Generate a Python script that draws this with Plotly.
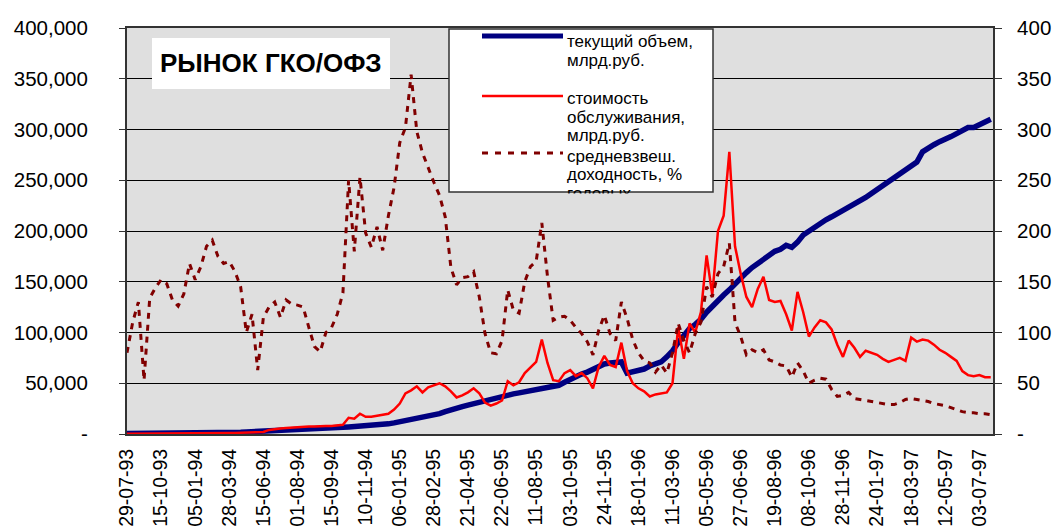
import plotly.graph_objects as go

# ---- data ----
tick_labels = ["29-07-93", "15-10-93", "05-01-94", "28-03-94", "15-06-94", "01-08-94",
               "15-09-94", "10-11-94", "06-01-95", "28-02-95", "21-04-95", "22-06-95",
               "11-08-95", "03-10-95", "24-11-95", "18-01-96", "11-03-96", "05-05-96",
               "27-06-96", "19-08-96", "08-10-96", "28-11-96", "24-01-97", "18-03-97",
               "12-05-97", "03-07-97"]

# current volume, left axis
volume = [
    500, 500, 600, 600, 700, 700, 800, 800, 900, 900,
    1000, 1000, 1100, 1200, 1200, 1300, 1400, 1500, 1600, 1700,
    1800, 2000, 2200, 2400, 2600, 3000, 3300, 3600, 3800, 4000,
    4200, 4500, 4800, 5000, 5300, 5600, 6000, 6300, 6600, 7000,
    7300, 7700, 8000, 8500, 9000, 9500, 10000, 11000, 12000, 13000,
    14000, 15000, 16000, 17000, 18500, 20000, 22000, 24000, 25500, 27000,
    28500, 30000, 31500, 33000, 34500, 35500, 36500, 38000, 39500, 40500,
    41500, 43000, 44000, 45000, 45500, 46000, 48000, 51000, 54000, 57000,
    59000, 61000, 64000, 67000, 69000, 70000, 70500, 71000, 60000, 61000,
    62000, 64000, 67000, 69000, 71000, 76000, 82000, 90000, 98000, 104000,
    108000, 113000, 120000, 126000, 132000, 137000, 142000, 148000, 154000, 159000,
    164000, 168000, 172000, 176000, 180000, 182000, 186000, 184000, 189000, 196000,
    200000, 204000, 208000, 211000, 214000, 217000, 220000, 223000, 226000, 229000,
    233000, 237000, 241000, 245000, 249000, 253000, 256000, 260000, 264000, 268000,
    278000, 282000, 285000, 288000, 290000, 293000, 296000, 299000, 302000, 302000,
    305000, 307000, 310000]

# service cost, left axis
cost = [
    300, 300, 300, 400, 400, 400, 500, 500, 500, 600,
    600, 700, 700, 800, 800, 900, 900, 1000, 1000, 1100,
    1200, 1300, 1400, 1500, 2000, 4000, 5000, 5500, 6000, 6500,
    7000, 7000, 7500, 7500, 8000, 8000, 8000, 8500, 9000, 16000,
    15000, 20000, 17000, 17000, 18000, 19000, 20000, 24000, 30000, 40000,
    43000, 47000, 41000, 46000, 48000, 50000, 47000, 42000, 36000, 38000,
    41000, 45000, 40000, 31000, 28000, 30000, 33000, 52000, 48000, 51000,
    60000, 66000, 71000, 93000, 70000, 53000, 52000, 60000, 63000, 57000,
    60000, 55000, 45000, 66000, 77000, 68000, 66000, 90000, 62000, 50000,
    45000, 42000, 37000, 39000, 40000, 41000, 50000, 105000, 74000, 109000,
    100000, 120000, 176000, 137000, 200000, 215000, 278000, 185000, 158000, 135000,
    125000, 143000, 155000, 132000, 130000, 131000, 118000, 102000, 140000, 120000,
    96000, 105000, 112000, 110000, 103000, 88000, 76000, 92000, 85000, 76000,
    82000, 80000, 78000, 74000, 71000, 73000, 75000, 72000, 95000, 91000,
    93000, 92000, 88000, 83000, 80000, 76000, 72000, 62000, 58000, 57000,
    58000, 56000, 56000]

# weighted average yield, % per year, right axis
yield_pct = [
    80, 110, 130, 53, 134, 144, 152, 148, 132, 126,
    138, 168, 152, 165, 185, 191, 175, 168, 170, 160,
    145, 100, 118, 63, 115, 125, 130, 115, 132, 128,
    127, 125, 105, 86, 81, 100, 105, 118, 139, 250,
    180, 253, 198, 184, 204, 181, 215, 243, 287, 302,
    354, 298, 277, 262, 248, 235, 214, 164, 147, 154,
    155, 160, 135, 99, 80, 79, 92, 142, 122, 119,
    150, 165, 170, 208, 155, 112, 115, 116, 112, 105,
    99, 91, 78, 102, 117, 99, 92, 130, 114, 93,
    80, 72, 70, 61, 68, 60, 80, 109, 92, 80,
    99, 110, 145, 135, 158, 165, 188, 110, 96, 78,
    83, 80, 83, 73, 71, 68, 67, 56, 70, 62,
    50, 53, 55, 54, 44, 37, 38, 41, 35, 34,
    33, 32, 31, 30, 29, 29, 31, 34, 35, 34,
    33, 32, 30, 29, 28, 26, 24, 22, 21, 21,
    20, 20, 19]

left_ticks = [0, 50000, 100000, 150000, 200000, 250000, 300000, 350000, 400000]
left_tick_text = ["-", "50,000", "100,000", "150,000", "200,000", "250,000",
                  "300,000", "350,000", "400,000"]
right_ticks = [0, 50, 100, 150, 200, 250, 300, 350, 400]
right_tick_text = ["-", "50", "100", "150", "200", "250", "300", "350", "400"]

legend_lines = [["текущий объем,", "млрд.руб."],
                ["стоимость", "обслуживания,", "млрд.руб."],
                ["средневзвеш.", "доходность, %", "годовых"]]
title_text = "РЫНОК ГКО/ОФЗ"

x = list(range(len(volume)))
FONT = "Arial, Liberation Sans, sans-serif"
BG = "#DFDFDF"
FRAME = "#333333"

fig = go.Figure()
fig.add_trace(go.Scatter(x=x, y=volume, mode="lines", line=dict(color="#000080", width=5.5),
                         showlegend=False, hoverinfo="skip"))
fig.add_trace(go.Scatter(x=x, y=cost, mode="lines", line=dict(color="#FF0000", width=2.5),
                         showlegend=False, hoverinfo="skip"))
fig.add_trace(go.Scatter(x=x, y=yield_pct, mode="lines", yaxis="y2",
                         line=dict(color="#800000", width=3, dash="6px,6px"),
                         showlegend=False, hoverinfo="skip"))

PL, PR, PT, PB = 127, 993, 28, 434
W, H = PR - PL, PB - PT


def px(xp):
    return (xp - PL) / W


def py(yp):
    return (PB - yp) / H


shapes = []
annotations = []

# title box
shapes.append(dict(type="rect", xref="paper", yref="paper", x0=px(152), x1=px(390),
                   y0=py(89), y1=py(38), fillcolor="white", line=dict(width=0), layer="above"))
annotations.append(dict(xref="paper", yref="paper", x=px(158), y=py(63), xanchor="left",
                        yanchor="middle", text="<b>" + title_text + "</b>", showarrow=False,
                        font=dict(family=FONT, size=26, color="black")))

# legend box
shapes.append(dict(type="rect", xref="paper", yref="paper", x0=px(449), x1=px(713),
                   y0=py(192), y1=py(29), fillcolor="white",
                   line=dict(color=FRAME, width=1.5), layer="above"))
legend_styles = [dict(color="#000080", width=5), dict(color="#FF0000", width=2.5),
                 dict(color="#800000", width=3, dash="6px,7px")]
legend_line_y = [36, 96, 153]
legend_text_y = [[42, 61], [99, 117, 135], [156, 174, 193]]
for style, ly in zip(legend_styles, legend_line_y):
    shapes.append(dict(type="line", xref="paper", yref="paper", x0=px(482), x1=px(563),
                       y0=py(ly), y1=py(ly), line=style, layer="above"))
for lines, ys in zip(legend_lines, legend_text_y):
    for t, ty in zip(lines, ys):
        annotations.append(dict(xref="paper", yref="paper", x=px(565), y=py(ty),
                                xanchor="left", yanchor="middle", text=t, showarrow=False,
                                font=dict(family=FONT, size=17, color="black")))
# cover the part of the last legend line that falls outside the box
annotations.append(dict(xref="paper", yref="paper", x=px(560), y=py(193.2), xanchor="left",
                        yanchor="top", text=" ", showarrow=False, width=120, height=14,
                        bgcolor=BG, borderpad=0, font=dict(size=10)))

fig.update_layout(
    width=1052, height=532,
    margin=dict(l=PL, r=1052 - PR, t=PT, b=532 - PB, pad=0, autoexpand=False),
    paper_bgcolor="white", plot_bgcolor=BG,
    font=dict(family=FONT, size=20, color="black"),
    showlegend=False,
    shapes=shapes, annotations=annotations,
    xaxis=dict(range=[0, 152.4], tickvals=x[::6], ticktext=tick_labels, tickangle=-90,
               showgrid=False, zeroline=False, showline=True, mirror=True,
               linecolor=FRAME, linewidth=2, ticks="", ticklabelstandoff=5,
               automargin=False, tickfont=dict(family=FONT, size=19.5)),
    yaxis=dict(range=[0, 400000], tickvals=left_ticks, ticktext=left_tick_text,
               showgrid=True, gridcolor="black", gridwidth=1, zeroline=False,
               showline=True, linecolor=FRAME, linewidth=2, ticks="outside", ticklen=6,
               tickcolor=FRAME, ticklabelstandoff=27, automargin=False,
               tickfont=dict(family=FONT, size=20.5)),
    yaxis2=dict(range=[0, 400], tickvals=right_ticks, ticktext=right_tick_text,
                overlaying="y", side="right", showgrid=False, zeroline=False,
                showline=True, linecolor=FRAME, linewidth=2, ticks="outside", ticklen=7,
                tickcolor=FRAME, ticklabelstandoff=11, automargin=False,
                tickfont=dict(family=FONT, size=20.5)),
)

fig.write_html("out.html", config={"displayModeBar": False},
               post_script="document.body.style.margin='0';")
